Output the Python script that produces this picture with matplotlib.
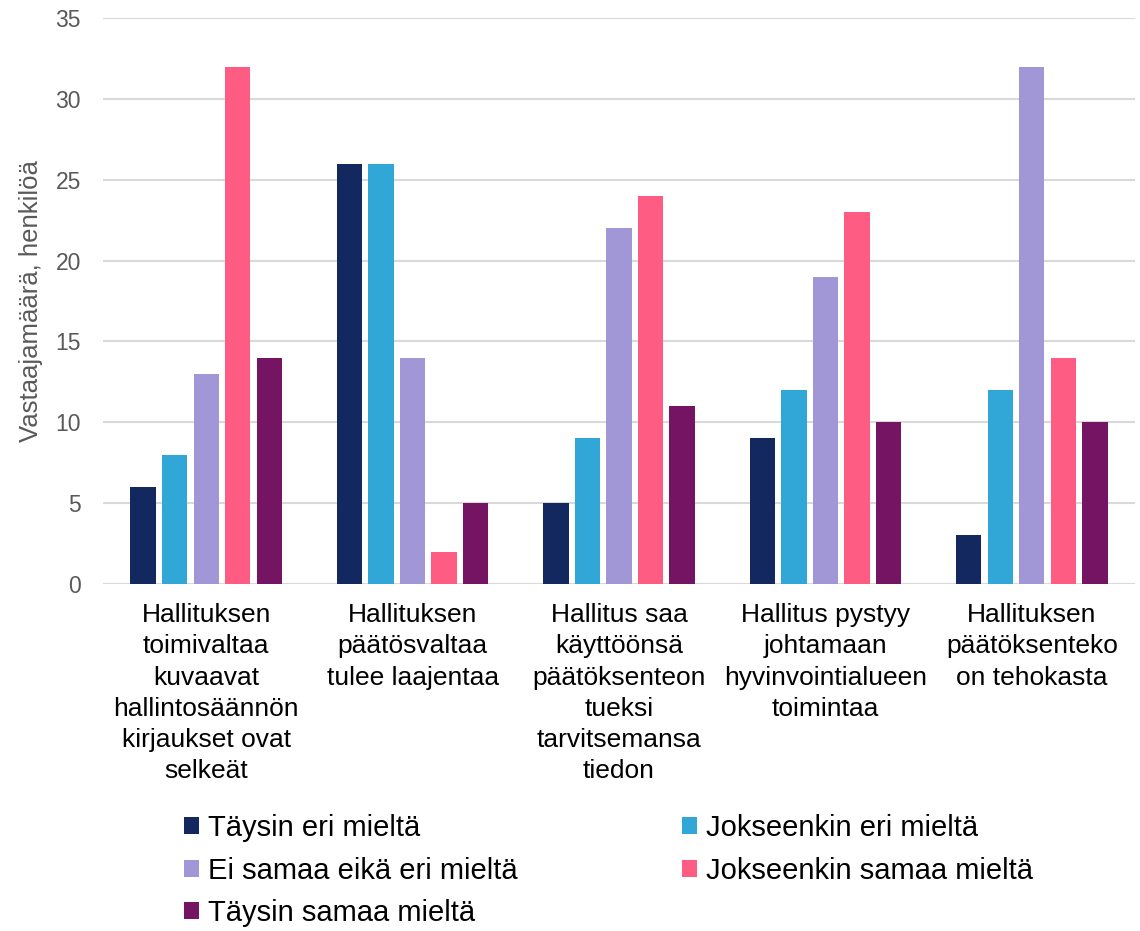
import matplotlib
matplotlib.use("Agg")
import matplotlib.pyplot as plt
import numpy as np
from matplotlib.patches import Patch

categories = [
    "Hallituksen\ntoimivaltaa\nkuvaavat\nhallintosäännön\nkirjaukset ovat\nselkeät",
    "Hallituksen\npäätösvaltaa\ntulee laajentaa",
    "Hallitus saa\nkäyttöönsä\npäätöksenteon\ntueksi\ntarvitsemansa\ntiedon",
    "Hallitus pystyy\njohtamaan\nhyvinvointialueen\ntoimintaa",
    "Hallituksen\npäätöksenteko\non tehokasta",
]
series_names = [
    "Täysin eri mieltä",
    "Jokseenkin eri mieltä",
    "Ei samaa eikä eri mieltä",
    "Jokseenkin samaa mieltä",
    "Täysin samaa mieltä",
]
values = [
    [6, 26, 5, 9, 3],
    [8, 26, 9, 12, 12],
    [13, 14, 22, 19, 32],
    [32, 2, 24, 23, 14],
    [14, 5, 11, 10, 10],
]
colors = ["#12285F", "#31A7D7", "#A197D6", "#FF5C83", "#751462"]
yticks = [0, 5, 10, 15, 20, 25, 30, 35]

plt.rcParams['font.family'] = ['Liberation Sans', 'DejaVu Sans']

fig = plt.figure(figsize=(11.4, 9.31), dpi=100)
ax = fig.add_axes([103/1140, 1 - 584/931, (1135-103)/1140, (584-18)/931])

x = np.arange(len(categories))
pitch = 0.153
width = 0.123
for i, (name, vals, c) in enumerate(zip(series_names, values, colors)):
    ax.bar(x + (i - 2) * pitch, vals, width, color=c, label=name, zorder=3)

ax.set_xlim(-0.5, len(categories) - 0.5)
ax.set_ylim(0, 35)
ax.set_yticks(yticks)
ax.yaxis.grid(True, color="#D9D9D9", linewidth=1.5, zorder=0)
ax.set_axisbelow(True)
for s in ax.spines.values():
    s.set_visible(False)
ax.tick_params(axis='y', length=0, labelsize=16.5, labelcolor="#595959", pad=16)
ax.tick_params(axis='x', length=0, pad=14)
ax.set_xticks(x)
ax.set_xticklabels(categories, fontsize=19, color="#000000", linespacing=1.37, va='top')

ax.set_ylabel("Vastaajamäärä, henkilöä", fontsize=18.5, color="#595959", labelpad=9)

handles = [Patch(facecolor=c, edgecolor='none') for c in colors]
common = dict(frameon=False, fontsize=21, handlelength=0.52, handleheight=0.52,
              handletextpad=0.3, labelspacing=0.5, borderaxespad=0, borderpad=0)
leg1 = fig.legend([handles[0], handles[2], handles[4]],
                  [series_names[0], series_names[2], series_names[4]],
                  loc='upper left', bbox_to_anchor=(184/1140, 1 - 814/931), **common)
leg2 = fig.legend([handles[1], handles[3]],
                  [series_names[1], series_names[3]],
                  loc='upper left', bbox_to_anchor=(682/1140, 1 - 814/931), **common)

fig.savefig("out.png", dpi=100)
